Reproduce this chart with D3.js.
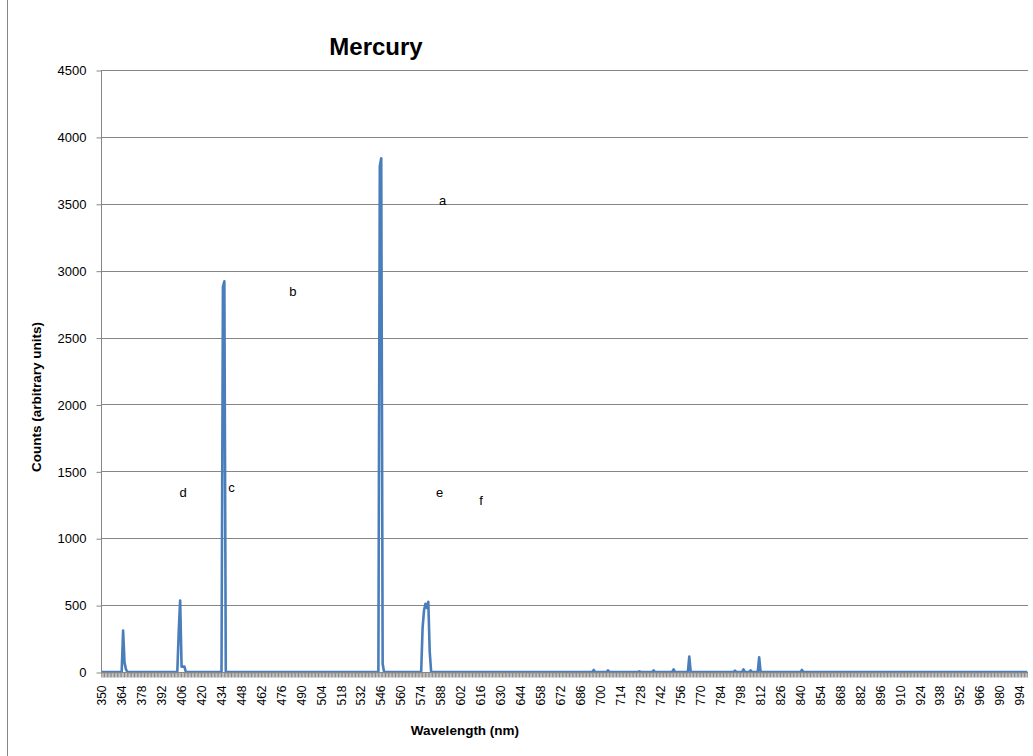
<!DOCTYPE html>
<html>
<head>
  <meta charset="utf-8"/>
  <title>Mercury</title>
  <script src="https://d3js.org/d3.v7.min.js"></script>
  <style>
    body { margin: 0; background: #fff; }
    text { font-family: "Liberation Sans", Arial, sans-serif; fill: #000; }
  </style>
</head>
<body>
<div id="chart"></div>
<script>
  // wavelength categories (nm) on the x axis
  var wavelengths = d3.range(350, 1000);
  // nonzero readings, everything else sits on 0
  var peakWavelengths = [365, 366, 367,
                         404, 405, 406, 407, 408,
                         435, 436,
                         545, 546, 547,
                         575, 576, 577, 578, 579, 580,
                         695, 705, 727, 737, 751, 762, 794, 800, 805, 811, 841];
  var peakCounts = [310, 70, 20,
                    300, 535, 40, 40, 40,
                    2880, 2920,
                    3780, 3840, 60,
                    330, 460, 510, 480, 525, 150,
                    15, 12, 5, 12, 20, 115, 10, 20, 12, 110, 15];
  var yTicks = [0, 500, 1000, 1500, 2000, 2500, 3000, 3500, 4000, 4500];
  var notes = [["a", 589], ["b", 484], ["c", 441], ["d", 407], ["e", 587], ["f", 616]];
  var noteCounts = [3490, 2810, 1345, 1305, 1310, 1250];

  var lookup = new Map(peakWavelengths.map((w, i) => [w, peakCounts[i]]));
  var data = wavelengths.map(w => ({ w: w, c: lookup.has(w) ? lookup.get(w) : 0 }));

  var width = 1033, height = 756;
  var plotLeft = 101, plotRight = 1028, plotTop = 70, plotBottom = 672;

  var svg = d3.select('#chart').append('svg')
    .attr('width', width).attr('height', height);

  // chart area border (left edge visible)
  svg.append('line')
    .attr('x1', 7.5).attr('x2', 7.5).attr('y1', 0).attr('y2', height)
    .attr('stroke', '#868686');

  var x = d3.scaleBand().domain(wavelengths).range([plotLeft, plotRight]);
  var y = d3.scaleLinear().domain([0, 4500]).range([plotBottom, plotTop]);
  var mid = w => x(w) + x.bandwidth() / 2;

  // gridlines
  svg.append('g').selectAll('line').data(yTicks.slice(1)).enter()
    .append('line')
    .attr('x1', plotLeft).attr('x2', plotRight)
    .attr('y1', d => Math.round(y(d)) + 0.5).attr('y2', d => Math.round(y(d)) + 0.5)
    .attr('stroke', '#868686');

  // series
  var line = d3.line().x(d => mid(d.w)).y(d => y(d.c));
  svg.append('path').datum(data)
    .attr('d', line)
    .attr('fill', 'none')
    .attr('stroke', '#4a7ebb')
    .attr('stroke-width', 2.6)
    .attr('stroke-linejoin', 'round');

  // y axis
  var yAxis = svg.append('g')
    .attr('transform', 'translate(' + (plotLeft + 0.5) + ',0.5)')
    .call(d3.axisLeft(y).tickValues(yTicks).tickFormat(d3.format('d'))
      .tickSize(5).tickPadding(10));
  yAxis.selectAll('line, path').attr('stroke', '#868686');
  yAxis.select('.domain').attr('d', 'M0,' + plotTop + 'V' + plotBottom);
  yAxis.selectAll('text').style('font-size', '13px').attr('fill', '#000');

  // x axis, a tick on every category, a label every 14 nm
  var xAxis = svg.append('g')
    .attr('transform', 'translate(0,' + (plotBottom + 0.5) + ')')
    .call(d3.axisBottom(x).tickSize(5).tickPadding(3)
      .tickFormat(d => (d - 350) % 14 === 0 ? d : ''));
  xAxis.selectAll('line, path').attr('stroke', '#868686');
  xAxis.select('.domain').attr('d', 'M' + plotLeft + ',0H' + plotRight);
  xAxis.selectAll('text')
    .style('font-size', '12px')
    .attr('fill', '#000')
    .attr('transform', 'rotate(-90)')
    .attr('text-anchor', 'end')
    .attr('dy', '0.35em')
    .attr('x', -13).attr('y', 0);

  // letters placed on the chart
  svg.append('g').selectAll('text').data(notes).enter()
    .append('text')
    .attr('x', d => mid(d[1]))
    .attr('y', (d, i) => y(noteCounts[i]))
    .attr('text-anchor', 'middle')
    .style('font-size', '13px')
    .text(d => d[0]);

  svg.append('text')
    .attr('x', 376).attr('y', 55)
    .attr('text-anchor', 'middle')
    .style('font-size', '24px').style('font-weight', 'bold')
    .text('Mercury');

  svg.append('text')
    .attr('transform', 'translate(41,397) rotate(-90)')
    .attr('text-anchor', 'middle')
    .style('font-size', '13.5px').style('font-weight', 'bold')
    .text('Counts (arbitrary units)');

  svg.append('text')
    .attr('x', 465).attr('y', 735)
    .attr('text-anchor', 'middle')
    .style('font-size', '13.5px').style('font-weight', 'bold')
    .text('Wavelength (nm)');
</script>
</body>
</html>
